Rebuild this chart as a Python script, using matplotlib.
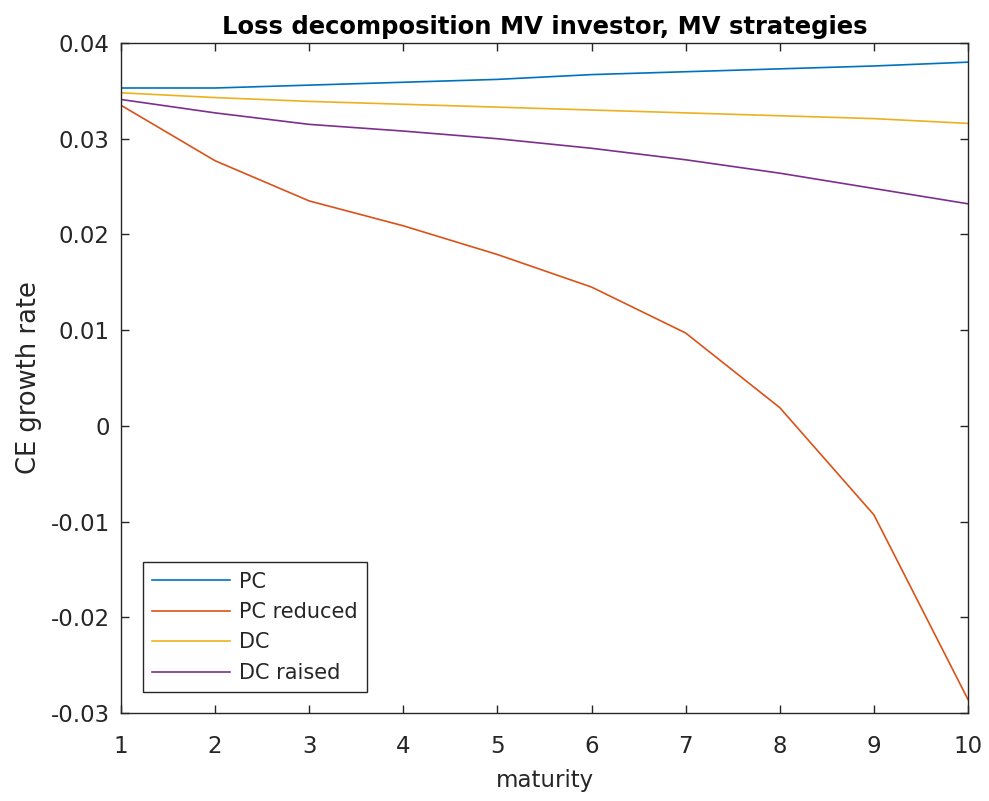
import matplotlib
matplotlib.use('Agg')
import matplotlib.pyplot as plt

plt.rcParams['font.family'] = ['DejaVu Sans']

maturity = [1, 2, 3, 4, 5, 6, 7, 8, 9, 10]
pc = [0.0353, 0.0353, 0.0356, 0.0359, 0.0362, 0.0367, 0.0370, 0.0373, 0.0376, 0.0380]
pc_reduced = [0.0335, 0.0277, 0.0235, 0.0209, 0.0179, 0.0145, 0.0097, 0.0019, -0.0093, -0.0286]
dc = [0.0348, 0.0343, 0.0339, 0.0336, 0.0333, 0.0330, 0.0327, 0.0324, 0.0321, 0.0316]
dc_raised = [0.0341, 0.0327, 0.0315, 0.0308, 0.0300, 0.0290, 0.0278, 0.0264, 0.0248, 0.0232]

yticks = [-0.03, -0.02, -0.01, 0, 0.01, 0.02, 0.03, 0.04]
ytick_labels = ['-0.03', '-0.02', '-0.01', '0', '0.01', '0.02', '0.03', '0.04']

axcol = '#262626'

fig = plt.figure(figsize=(9.89, 8.01), dpi=100)
ax = fig.add_axes([0.1223, 0.1099, 0.8565, 0.8364])

ax.plot(maturity, pc, color='#0072BD', lw=1.2, label='PC')
ax.plot(maturity, pc_reduced, color='#D95319', lw=1.2, label='PC reduced')
ax.plot(maturity, dc, color='#EDB120', lw=1.2, label='DC')
ax.plot(maturity, dc_raised, color='#7E2F8E', lw=1.2, label='DC raised')

ax.set_xlim(1, 10)
ax.set_ylim(-0.03, 0.04)
ax.set_xticks(maturity)
ax.set_yticks(yticks)
ax.set_yticklabels(ytick_labels)
ax.tick_params(direction='in', top=True, right=True, length=6, width=1,
               labelsize=16.5, colors=axcol)
ax.tick_params(axis='y', pad=8)
ax.tick_params(axis='x', pad=16)
for s in ax.spines.values():
    s.set_color(axcol)
    s.set_linewidth(1)

ax.set_xlabel('maturity', fontsize=16.5, color=axcol)
ax.xaxis.set_label_coords(0.5, -0.083)
ax.set_ylabel('CE growth rate', fontsize=18.5, color=axcol)
ax.yaxis.set_label_coords(-0.093, 0.5)
ax.set_title('Loss decomposition MV investor, MV strategies', fontsize=17.5,
             fontweight='bold', color='black', pad=6.5)

leg = ax.legend(loc='lower left', bbox_to_anchor=(0.026, 0.031), borderaxespad=0,
                fontsize=15, handlelength=3.75, handletextpad=0.4,
                labelspacing=0.5, borderpad=0.45, fancybox=False, framealpha=1)
leg.get_frame().set_edgecolor(axcol)
leg.get_frame().set_linewidth(1)
for t in leg.get_texts():
    t.set_color(axcol)

fig.savefig('out.png', dpi=100)
